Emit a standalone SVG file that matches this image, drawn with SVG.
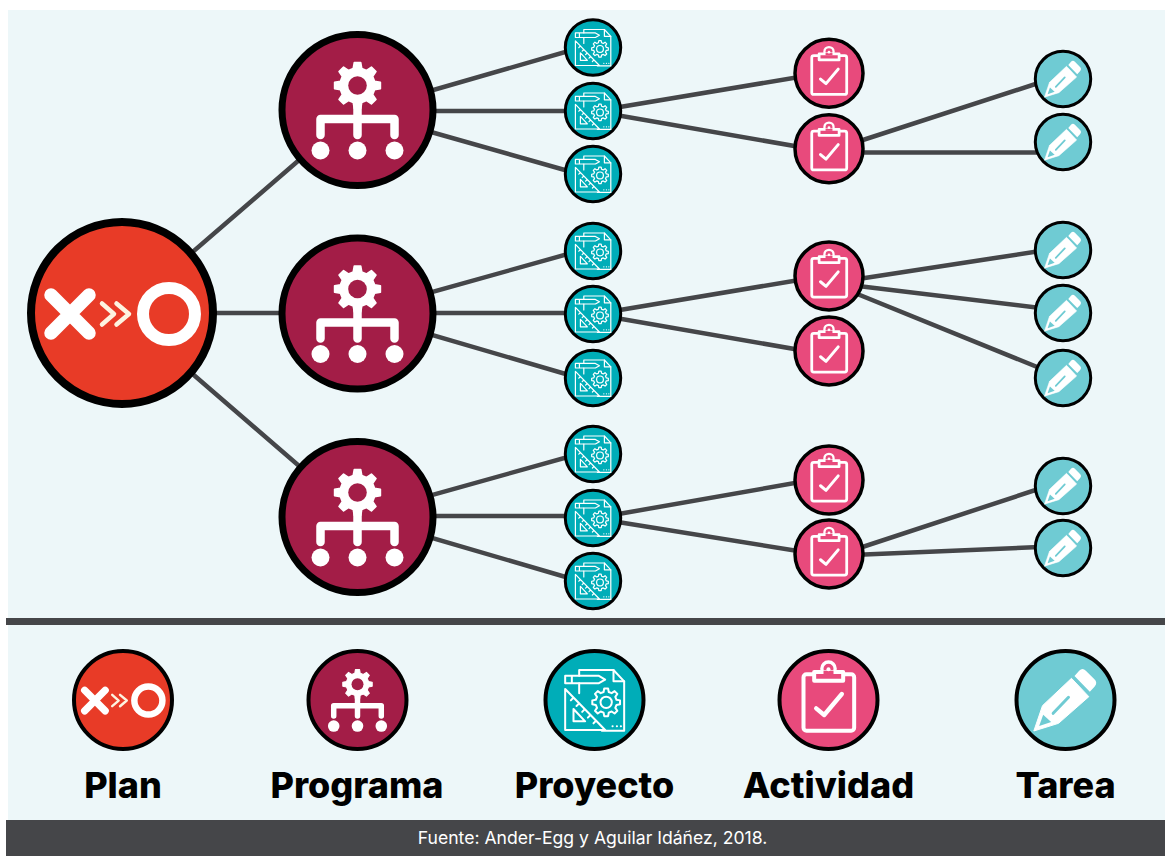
<svg xmlns="http://www.w3.org/2000/svg" xmlns:xlink="http://www.w3.org/1999/xlink" width="1165" height="856" viewBox="0 0 1165 856">
<style>
.ln{stroke:#454649;stroke-width:4.500;fill:none}
.ring{stroke:#000}
.plan{fill:#e83b27}.prog{fill:#a31d47}.proj{fill:#00adb8}.act{fill:#e84a7c}.tar{fill:#6fcbd3}
.w{fill:none;stroke:#fff;stroke-linecap:round;stroke-linejoin:round}
.lab{font-family:"Inter","Liberation Sans",sans-serif;font-weight:800;font-size:36px;fill:#000;text-anchor:middle}
.src{font-family:"Inter","Liberation Sans",sans-serif;font-size:17.600px;fill:#fff;text-anchor:middle}
</style>
<defs>
<path id="gear" d="M31.05,-7.74L41.59,-5.85L41.59,5.85L31.05,7.74L27.43,16.48L33.54,25.27L25.27,33.54L16.48,27.43L7.74,31.05L5.85,41.59L-5.85,41.59L-7.74,31.05L-16.48,27.43L-25.27,33.54L-33.54,25.27L-27.43,16.48L-31.05,7.74L-41.59,5.85L-41.59,-5.85L-31.05,-7.74L-27.43,-16.48L-33.54,-25.27L-25.27,-33.54L-16.48,-27.43L-7.74,-31.05L-5.85,-41.59L5.85,-41.59L7.74,-31.05L16.48,-27.43L25.27,-33.54L33.54,-25.27L27.43,-16.48Z"/>
<g id="i-plan">
<path class="w" stroke-width="13.500" d="M-71,-18L-33,20M-33,-18L-71,20"/>
<path fill="none" stroke="#fdf3e0" stroke-width="4.500" stroke-linecap="round" stroke-linejoin="round" d="M-20,-9.500L-8,1L-20,11.500M-5.500,-9.500L7,1L-5.500,11.500"/>
<circle cx="47" cy="1" r="26" fill="none" stroke="#fff" stroke-width="12"/>
</g>
<g id="i-prog">
<use href="#gear" transform="translate(0,-24.500) scale(.55)" fill="#fff" stroke="#fff" stroke-width="3" stroke-linejoin="round"/>
<circle cx="0" cy="-24.500" r="9.300" fill="#a31d47"/>
<path class="w" stroke-width="8.500" d="M0,-4V25M-37,25V9H37V25"/>
<circle cx="-37" cy="40.500" r="9" fill="#fff"/><circle cx="0" cy="40.500" r="9" fill="#fff"/><circle cx="37" cy="40.500" r="9" fill="#fff"/>
</g>
<g id="i-proj">
<g class="w" stroke-width="6" transform="translate(-193,-178)">
<path d="M147,105V88H250L282,122V270H215M147,128V158"/>
<path d="M250,88V122H282"/>
<path d="M105,105H205L225,117L205,128H105ZM125,105V128"/>
<path d="M105,145V268H225ZM130,170.600L122,179M147,188L139,196M164,205.500L156,213.500M181,223L173,231M198,240L190,248"/>
<path d="M130,205V242H165Z"/>
<use href="#gear" transform="translate(228,185)"/>
<circle cx="228" cy="185" r="17"/>
<path d="M247,257h.5M260,257h.5M272,257h.5" stroke-width="6"/>
</g>
</g>
<g id="i-act">
<g transform="translate(-205,-180)">
<rect x="130" y="103" width="152" height="169" rx="9" fill="none" stroke="#fff" stroke-width="12"/>
<circle cx="205" cy="86" r="20" fill="#e84a7c" stroke="#fff" stroke-width="10"/>
<rect x="162" y="96" width="87" height="26" fill="#e84a7c" stroke="#fff" stroke-width="12" stroke-linejoin="round"/>
<rect x="190" y="92" width="30" height="10" fill="#e84a7c"/>
<circle cx="205" cy="88" r="6" fill="#fff"/>
<path class="w" stroke-width="13" d="M168,205L192,225L245,162"/>
</g>
</g>
<g id="i-tar">
<g transform="translate(-917,-180)">
<path d="M944,108L958,92Q968,82 978,92L1003,117Q1015,128 1004,140L990,155Z" fill="#fff"/>
<path d="M848,197L935,115L987,170L896,250L822,273Z" fill="#fff" stroke="#fff" stroke-width="3" stroke-linejoin="round"/>
<path d="M880,220L926,172" stroke="#6fcbd3" stroke-width="9" stroke-linecap="round" fill="none"/>
<path d="M850,224L838,258L874,246Z" fill="#6fcbd3"/>
</g>
</g>
</defs>

<rect x="8" y="10" width="1157" height="810" fill="#edf7f9"/>

<g id="connectors">
<path class="ln" d="M122,313L357,110M122,313H357M122,313L357,516"/>
<path class="ln" d="M357,112L593,44M357,111H593M357,111L593,178"/>
<path class="ln" d="M357,313L593,247M357,313H593M357,313L593,382"/>
<path class="ln" d="M357,516L593,450M357,516H593M357,516L593,585"/>
<path class="ln" d="M593,111.500L829,72M593,111L829,152"/>
<path class="ln" d="M593,314.500L829,275M593,314L829,355"/>
<path class="ln" d="M593,518.500L829,477M593,518L829,556"/>
<path class="ln" d="M829,151L1063,75M829,152.500H1063"/>
<path class="ln" d="M829,283.500L1063,247.500M829,282.500L1063,310.700M829,282.500L1063,377.500"/>
<path class="ln" d="M829,558L1063,481M829,556L1063,546"/>
</g>

<g id="plan-main"><circle cx="122" cy="313" r="91" class="plan ring" stroke-width="8"/><use href="#i-plan" transform="translate(122,313)"/></g>

<g id="prog-1"><circle cx="357.500" cy="110" r="75.500" class="prog ring" stroke-width="7"/><use href="#i-prog" transform="translate(357.500,110)"/></g>
<g id="prog-2"><circle cx="357.500" cy="313.500" r="75.500" class="prog ring" stroke-width="7"/><use href="#i-prog" transform="translate(357.500,313.500)"/></g>
<g id="prog-3"><circle cx="357.500" cy="517" r="75.500" class="prog ring" stroke-width="7"/><use href="#i-prog" transform="translate(357.500,517)"/></g>

<g id="proj-1"><circle cx="593" cy="47.500" r="27.700" class="proj ring" stroke-width="3"/><use href="#i-proj" transform="translate(593,47.500) scale(.2)"/></g>
<g id="proj-2"><circle cx="593" cy="111" r="27.700" class="proj ring" stroke-width="3"/><use href="#i-proj" transform="translate(593,111) scale(.2)"/></g>
<g id="proj-3"><circle cx="593" cy="174" r="27.700" class="proj ring" stroke-width="3"/><use href="#i-proj" transform="translate(593,174) scale(.2)"/></g>
<g id="proj-4"><circle cx="593" cy="251" r="27.700" class="proj ring" stroke-width="3"/><use href="#i-proj" transform="translate(593,251) scale(.2)"/></g>
<g id="proj-5"><circle cx="593" cy="314" r="27.700" class="proj ring" stroke-width="3"/><use href="#i-proj" transform="translate(593,314) scale(.2)"/></g>
<g id="proj-6"><circle cx="593" cy="378" r="27.700" class="proj ring" stroke-width="3"/><use href="#i-proj" transform="translate(593,378) scale(.2)"/></g>
<g id="proj-7"><circle cx="593" cy="454" r="27.700" class="proj ring" stroke-width="3"/><use href="#i-proj" transform="translate(593,454) scale(.2)"/></g>
<g id="proj-8"><circle cx="593" cy="518" r="27.700" class="proj ring" stroke-width="3"/><use href="#i-proj" transform="translate(593,518) scale(.2)"/></g>
<g id="proj-9"><circle cx="593" cy="581" r="27.700" class="proj ring" stroke-width="3"/><use href="#i-proj" transform="translate(593,581) scale(.2)"/></g>

<g id="act-1"><circle cx="829" cy="73.300" r="34" class="act ring" stroke-width="3.500"/><use href="#i-act" transform="translate(829,73.300) scale(.23)"/></g>
<g id="act-2"><circle cx="829" cy="148.800" r="34" class="act ring" stroke-width="3.500"/><use href="#i-act" transform="translate(829,148.800) scale(.23)"/></g>
<g id="act-3"><circle cx="829" cy="276" r="34" class="act ring" stroke-width="3.500"/><use href="#i-act" transform="translate(829,276) scale(.23)"/></g>
<g id="act-4"><circle cx="829" cy="351" r="34" class="act ring" stroke-width="3.500"/><use href="#i-act" transform="translate(829,351) scale(.23)"/></g>
<g id="act-5"><circle cx="829" cy="480" r="34" class="act ring" stroke-width="3.500"/><use href="#i-act" transform="translate(829,480) scale(.23)"/></g>
<g id="act-6"><circle cx="829" cy="554" r="34" class="act ring" stroke-width="3.500"/><use href="#i-act" transform="translate(829,554) scale(.23)"/></g>

<g id="tar-1"><circle cx="1063" cy="79" r="27.700" class="tar ring" stroke-width="3"/><use href="#i-tar" transform="translate(1063,79) scale(.195)"/></g>
<g id="tar-2"><circle cx="1063" cy="142" r="27.700" class="tar ring" stroke-width="3"/><use href="#i-tar" transform="translate(1063,142) scale(.195)"/></g>
<g id="tar-3"><circle cx="1063" cy="250" r="27.700" class="tar ring" stroke-width="3"/><use href="#i-tar" transform="translate(1063,250) scale(.195)"/></g>
<g id="tar-4"><circle cx="1063" cy="313" r="27.700" class="tar ring" stroke-width="3"/><use href="#i-tar" transform="translate(1063,313) scale(.195)"/></g>
<g id="tar-5"><circle cx="1063" cy="378" r="27.700" class="tar ring" stroke-width="3"/><use href="#i-tar" transform="translate(1063,378) scale(.195)"/></g>
<g id="tar-6"><circle cx="1063" cy="486" r="27.700" class="tar ring" stroke-width="3"/><use href="#i-tar" transform="translate(1063,486) scale(.195)"/></g>
<g id="tar-7"><circle cx="1063" cy="548" r="27.700" class="tar ring" stroke-width="3"/><use href="#i-tar" transform="translate(1063,548) scale(.195)"/></g>

<rect x="6" y="618" width="1159" height="7" fill="#454649"/>

<g id="legend-plan"><circle cx="123" cy="700" r="49" class="plan ring" stroke-width="4"/><use href="#i-plan" transform="translate(123,700) scale(.54)"/><text class="lab" x="123" y="797.500">Plan</text></g>
<g id="legend-prog"><circle cx="357.500" cy="700" r="49" class="prog ring" stroke-width="4"/><use href="#i-prog" transform="translate(357.500,700) scale(.643)"/><text class="lab" x="357" y="797.500">Programa</text></g>
<g id="legend-proj"><circle cx="594.500" cy="700" r="49" class="proj ring" stroke-width="4"/><use href="#i-proj" transform="translate(594.500,700) scale(.3333)"/><text class="lab" x="594.500" y="797.500">Proyecto</text></g>
<g id="legend-act"><circle cx="828.500" cy="700" r="49" class="act ring" stroke-width="4"/><use href="#i-act" transform="translate(828.500,700) scale(.3333)"/><text class="lab" x="828.500" y="797.500">Actividad</text></g>
<g id="legend-tar"><circle cx="1065.500" cy="700" r="49" class="tar ring" stroke-width="4"/><use href="#i-tar" transform="translate(1065.500,700) scale(.3333)"/><text class="lab" x="1065.500" y="797.500">Tarea</text></g>

<rect x="6" y="820" width="1159" height="36" fill="#454649"/>
<text class="src" x="592.500" y="844">Fuente: Ander-Egg y Aguilar Idáñez, 2018.</text>
</svg>
